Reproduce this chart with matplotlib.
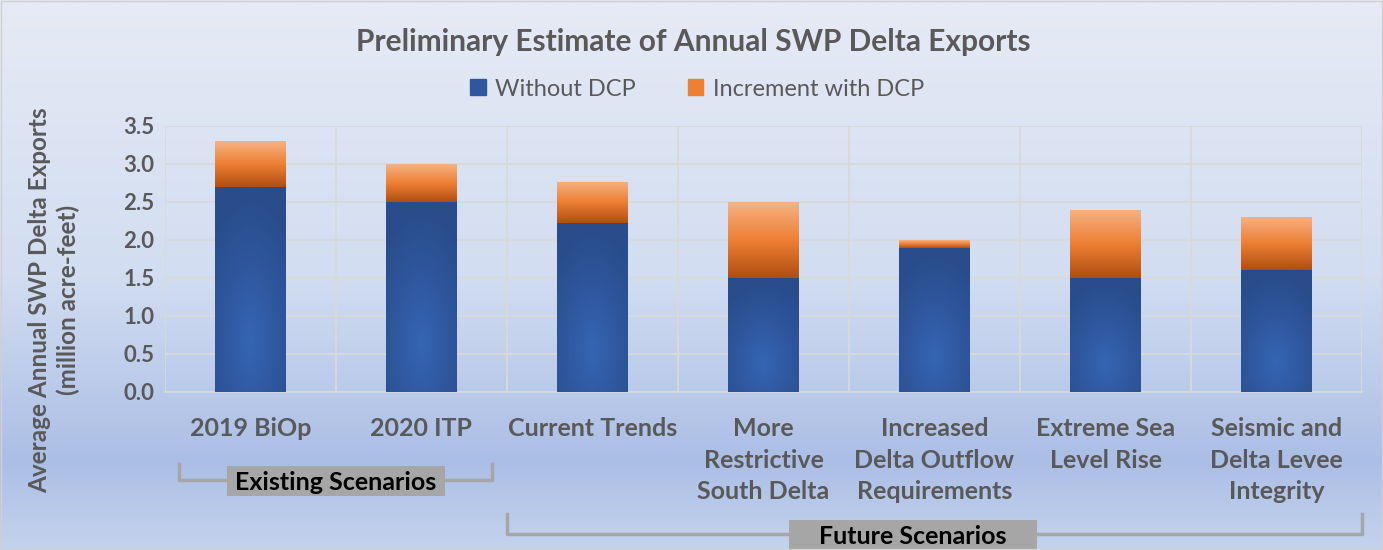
import matplotlib.pyplot as plt
import matplotlib.transforms as mtransforms
from matplotlib.patches import Patch, Rectangle
from matplotlib.colors import LinearSegmentedColormap
import numpy as np

plt.rcParams['font.family'] = ['Lato', 'DejaVu Sans']

categories = ["2019 BiOp", "2020 ITP", "Current Trends", "More\nRestrictive\nSouth Delta",
              "Increased\nDelta Outflow\nRequirements", "Extreme Sea\nLevel Rise",
              "Seismic and\nDelta Levee\nIntegrity"]
without_dcp = [2.7, 2.5, 2.22, 1.5, 1.9, 1.5, 1.6]
increment_dcp = [0.6, 0.5, 0.54, 1.0, 0.1, 0.9, 0.7]
yticks = [0.0, 0.5, 1.0, 1.5, 2.0, 2.5, 3.0, 3.5]
groups = [("Existing Scenarios", 0, 1), ("Future Scenarios", 2, 6)]

W, H = 1383, 550
txt = "#595959"
fig = plt.figure(figsize=(W / 100, H / 100), dpi=100)

# background gradient
bg = fig.add_axes([0, 0, 1, 1], zorder=-10)
bg_cmap = LinearSegmentedColormap.from_list("bg", [(0, "#e6ebf5"), (0.5, "#d2ddf1"),
                                                    (0.84, "#abbee5"), (1.0, "#c4d3ed")])
bg.imshow(np.linspace(0, 1, 256).reshape(-1, 1), cmap=bg_cmap, aspect="auto",
          extent=[0, 1, 0, 1], origin="upper")
bg.set_xlim(0, 1)
bg.set_ylim(0, 1)
bg.axis("off")
fig.add_artist(plt.Rectangle((0.001, 0.002), 0.998, 0.996, transform=fig.transFigure,
                             fill=False, edgecolor="#d0d0d0", lw=1))

ax = fig.add_axes([165 / W, 1 - 392 / H, (1362 - 165) / W, (392 - 126) / H])
ax.patch.set_alpha(0)
x = np.arange(len(categories))
bw = 0.41

orange_cmap = LinearSegmentedColormap.from_list("or", ["#f5b284", "#ee7f33", "#b04f12"])
blue_cmap = LinearSegmentedColormap.from_list("bl", ["#3565b3", "#2f579e", "#294c8a"])

b1 = ax.bar(x, without_dcp, bw, color="none", zorder=3)
b2 = ax.bar(x, increment_dcp, bw, bottom=without_dcp, color="none", zorder=3)

yy, xx = np.mgrid[0:1:100j, -1:1:60j]
for r in b1:
    x0, y0 = r.get_x(), r.get_y()
    w, h = r.get_width(), r.get_height()
    d = np.sqrt(xx ** 2 + ((yy - 0.25) * 2.2) ** 2)
    im = ax.imshow(np.clip(d / 1.6, 0, 1), cmap=blue_cmap, extent=[x0, x0 + w, y0, y0 + h],
                   origin="lower", aspect="auto", zorder=3)
    im.set_clip_path(r)
for r in b2:
    x0, y0 = r.get_x(), r.get_y()
    w, h = r.get_width(), r.get_height()
    im = ax.imshow(np.linspace(1, 0, 100).reshape(-1, 1), cmap=orange_cmap,
                   extent=[x0, x0 + w, y0, y0 + h], origin="lower", aspect="auto", zorder=3)
    im.set_clip_path(r)

ax.set_xlim(-0.5, len(categories) - 0.5)
ax.set_ylim(0, 3.5)
ax.set_yticks(yticks)
ax.set_yticklabels([f"{v:.1f}" for v in yticks], fontsize=16, fontweight="bold", color=txt)
ax.set_xticks(x)
ax.set_xticklabels(categories, fontsize=18, fontweight="bold", color=txt, linespacing=1.45,
                   va="top")
ax.set_xticks(np.arange(len(categories) + 1) - 0.5, minor=True)
ax.tick_params(axis="both", which="both", length=0)
ax.tick_params(axis="x", pad=18)
ax.tick_params(axis="y", pad=30)
for lbl in ax.get_yticklabels():
    lbl.set_horizontalalignment("left")
ax.grid(axis="y", which="major", color="#d9d9d9", lw=1.3, zorder=0)
ax.grid(axis="x", which="minor", color="#d9d9d9", lw=1.3, zorder=0)
for s in ["top", "right", "left"]:
    ax.spines[s].set_visible(False)
ax.spines["bottom"].set_color("#d9d9d9")
ax.spines["bottom"].set_linewidth(1.3)

fig.text(54 / W, 1 - 300 / H, "Average Annual SWP Delta Exports\n(million acre-feet)",
         rotation=90, ha="center", va="center", fontsize=17.5, fontweight="bold", color=txt,
         linespacing=1.25, multialignment="center")

fig.text(693 / W, 1 - 42 / H, "Preliminary Estimate of Annual SWP Delta Exports",
         ha="center", va="center", fontsize=21.5, fontweight="bold", color=txt)

handles = [Patch(facecolor="#2f579e", edgecolor="#2f579e"),
           Patch(facecolor="#ee7f33", edgecolor="#ee7f33")]
fig.legend(handles, ["Without DCP", "Increment with DCP"], loc="center",
           bbox_to_anchor=(697 / W, 1 - 89 / H), ncol=2, frameon=False, fontsize=17,
           labelcolor=txt, handlelength=0.65, handleheight=0.65, handletextpad=0.4,
           columnspacing=2.2)

# scenario brackets: (left pad, right pad, tick top px, bar px, label centre, box half-width)
trans = mtransforms.blended_transform_factory(ax.transData, fig.transFigure)
bracket_specs = [(-0.42, 0.41, 464, 480, 0.5, 0.64), (-0.5, 0.5, 514, 534, 3.875, 0.725)]
for (label, a, b), (pl, pr, ytop, ybar, cx, hw) in zip(groups, bracket_specs):
    xs = [a + pl, a + pl, b + pr, b + pr]
    ys = [1 - ytop / H, 1 - ybar / H, 1 - ybar / H, 1 - ytop / H]
    ax.plot(xs, ys, transform=trans, color="#a6a6a6", lw=2.5, clip_on=False,
            solid_joinstyle="round")
    ax.add_patch(Rectangle((cx - hw, 1 - (ybar + 16) / H), 2 * hw, 30 / H, transform=trans,
                           facecolor="#a6a6a6", edgecolor="none", clip_on=False, zorder=4))
    ax.text(cx, 1 - (ybar + 2) / H, label, transform=trans, ha="center", va="center",
            fontsize=18, fontweight="bold", color="black", zorder=5)

fig.savefig("out.png", dpi=100)
